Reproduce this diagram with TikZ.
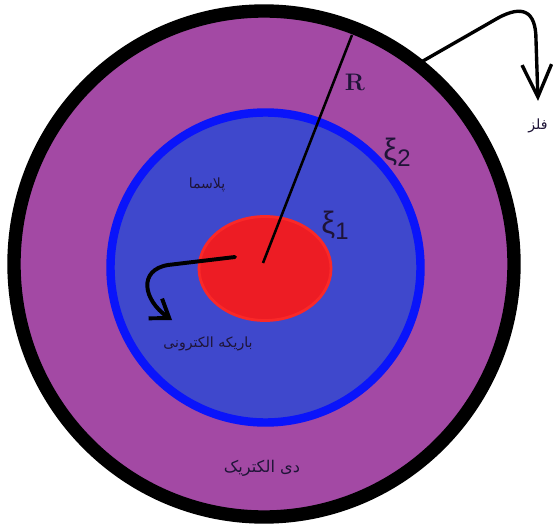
\documentclass[tikz,border=0pt]{standalone}
\usepackage{fontspec}
\usetikzlibrary{arrows.meta}
\newfontfamily\arabicfont[Script=Arabic]{DejaVu Sans}
\newfontfamily\xifont{Liberation Sans}
\TeXXeTstate=1
\definecolor{dielcol}{RGB}{163,73,164}
\definecolor{plasmacol}{RGB}{63,72,204}
\definecolor{ringblue}{RGB}{10,20,250}
\definecolor{beamred}{RGB}{237,28,36}
\definecolor{beamedge}{RGB}{250,40,40}
\definecolor{txtcol}{RGB}{30,20,55}
\newcommand{\xisub}[1]{\raisebox{-0.35ex}{\fontsize{17}{17}\selectfont #1}}

\begin{document}
\begin{tikzpicture}[
  x=0.025cm, y=-0.025cm,
  fatxt/.style={text=txtcol, font=\arabicfont\fontsize{10}{12}\selectfont, inner sep=0pt},
  xitxt/.style={text=txtcol, font=\xifont\fontsize{22}{24}\selectfont, inner sep=0pt},
  rtxt/.style={text=txtcol, font=\fontsize{17}{20}\selectfont\bfseries, inner sep=0pt},
  arr/.style={line width=2.4pt, line cap=round, line join=round}
]
  \useasboundingbox (0,0) rectangle (553,531);

  % vrstvy: dielektrikum, plazma, svazek
  \filldraw[fill=dielcol, draw=black, line width=9.5pt] (264,264) ellipse [x radius=250, y radius=253];
  \filldraw[fill=plasmacol, draw=ringblue, line width=6pt] (265.5,267.5) circle [radius=155];
  \filldraw[fill=beamred, draw=beamedge, line width=2pt] (265,268.5) ellipse [x radius=66, y radius=52];

  % polomer R
  \coordinate (c) at (263,263);
  \coordinate (rim) at (352,35);
  \draw[line width=1.8pt] (c) -- (rim);

  % sipka ke kovu
  \coordinate (m0) at (423,61);
  \coordinate (m1) at (538,101);
  \draw[arr, -{Straight Barb[length=23pt,width=21pt]}] (m0) -- (498,18) .. controls (522,5) and (536,10) .. (536,40) -- (m1);

  % sipka svazku
  \coordinate (b0) at (235,257);
  \coordinate (b1) at (172,320);
  \draw[arr, line width=2.8pt, -{Straight Barb[length=12pt,width=17pt]}] (b0) -- (168,265) .. controls (138,270) and (143,300) .. (b1);

  % popisky
  \node[fatxt] (plasma) at (207,185) {\beginR پلاسما\endR};
  \node[fatxt] (beam) at (208,344) {\beginR باریکه الکترونی\endR};
  \node[fatxt, font=\arabicfont\fontsize{11.5}{14}\selectfont] (diel) at (262,468) {\beginR دی الکتریک\endR};
  \node[fatxt] (metal) at (538,126) {\beginR فلز\endR};
  \node[rtxt] (Rlab) at (355,82) {R};
  \node[xitxt] (xi2) at (397,152) {ξ\xisub{2}};
  \node[xitxt] (xi1) at (335,225) {ξ\xisub{1}};
\end{tikzpicture}
\end{document}
